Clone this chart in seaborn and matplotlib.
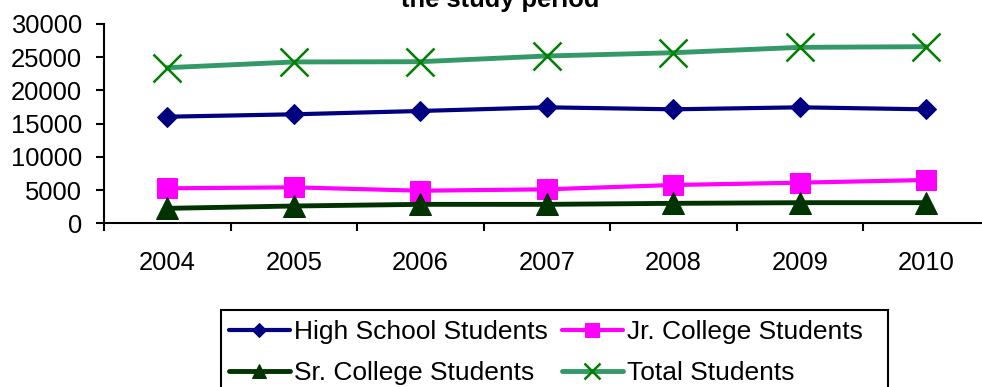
import numpy as np
import pandas as pd
import matplotlib
matplotlib.use("Agg")
import matplotlib.pyplot as plt
from matplotlib.patches import Rectangle
from matplotlib.ticker import FixedLocator, NullFormatter, FixedFormatter
import seaborn as sns

years = ["2004", "2005", "2006", "2007", "2008", "2009", "2010"]
high_school = [16030, 16390, 16890, 17440, 17140, 17440, 17140]
jr_college = [5260, 5410, 4900, 5110, 5760, 6110, 6510]
sr_college = [2250, 2600, 2850, 2850, 3000, 3100, 3100]
total = [23400, 24260, 24300, 25160, 25650, 26460, 26560]
y_ticks = [0, 5000, 10000, 15000, 20000, 25000, 30000]

sns.set_theme(style="white")
plt.rcParams["font.family"] = ["Liberation Sans", "DejaVu Sans"]
FS = 18.4
LEG_FS = 19
W, H = 982, 387

fig = plt.figure(figsize=(W / 100, H / 100), dpi=100)
ax = fig.add_axes([104 / W, 1 - 223.3 / H, 885.5 / W, (223.3 - 23.8) / H])

pos = np.arange(len(years))
series = [
    ("High School Students", high_school, dict(color="#000080", marker="D", markersize=10.5,
                                               markeredgecolor="#000080", linewidth=3.0), 7.5),
    ("Jr. College Students", jr_college, dict(color="#FF00FF", marker="s", markersize=14.5,
                                             markeredgecolor="#FF00FF", linewidth=3.0), 10),
    ("Sr. College Students", sr_college, dict(color="#003300", marker="^", markersize=15.5,
                                             markeredgecolor="#003300", linewidth=3.5), 10.5),
    ("Total Students", total, dict(color="#339966", marker="x", markersize=20,
                                   markeredgecolor="#008000", markeredgewidth=1.8, linewidth=3.5), 12),
]

for name, vals, style, _ in series:
    df = pd.DataFrame({"pos": pos, "value": vals})
    sns.lineplot(data=df, x="pos", y="value", ax=ax, label=name, **style)

ax.set_xlim(-0.5, len(years) - 0.5)
ax.set_ylim(0, 30000)
ax.set_xlabel("")
ax.set_ylabel("")

# category boundaries carry the tick marks, labels sit between them
ax.xaxis.set_major_locator(FixedLocator(np.arange(-0.5, len(years), 1.0)))
ax.xaxis.set_major_formatter(NullFormatter())
ax.xaxis.set_minor_locator(FixedLocator(pos))
ax.xaxis.set_minor_formatter(FixedFormatter(years))
ax.tick_params(axis="x", which="major", direction="out", length=5.5, width=1.5,
               color="black", bottom=True)
ax.tick_params(axis="x", which="minor", length=0, pad=20, labelsize=FS, labelcolor="black")

ax.set_yticks(y_ticks)
ax.set_yticklabels([str(v) for v in y_ticks])
ax.tick_params(axis="y", direction="out", length=6, width=1.5, color="black",
               left=True, pad=10, labelsize=FS, labelcolor="black")

for side in ["top", "right"]:
    ax.spines[side].set_visible(False)
for side in ["left", "bottom"]:
    ax.spines[side].set_color("black")
    ax.spines[side].set_linewidth(1.5)
ax.grid(False)
ax.set_facecolor("white")

# legend: row-wise order (HS, Jr / Sr, Total) in a two-column layout
handles, labels = ax.get_legend_handles_labels()
if ax.legend_:
    ax.legend_.remove()
order = [0, 2, 1, 3]
leg = fig.legend([handles[i] for i in order], [labels[i] for i in order], ncol=2,
                 loc="upper left", bbox_to_anchor=(221 / W, 1 - 312 / H),
                 bbox_transform=fig.transFigure,
                 fontsize=LEG_FS, frameon=False,
                 handlelength=2.3, handletextpad=0.15, columnspacing=0.55,
                 labelspacing=0.66, borderpad=0.3, borderaxespad=0)
for t in leg.get_texts():
    t.set_color("black")
for h, i in zip(leg.legend_handles, order):
    h.set_markersize(series[i][3])

fig.patches.append(Rectangle((220.7 / W, -0.05), (888 - 220.7) / W, 0.05 + (1 - 310 / H),
                             transform=fig.transFigure, fill=False, edgecolor="black",
                             linewidth=1.5, zorder=5))

fig.text(500 / W, 1 - 7 / H, "the study period", ha="center", va="baseline",
         fontsize=FS, fontweight="bold", color="black")

fig.savefig("out.png", dpi=100, facecolor="white")
